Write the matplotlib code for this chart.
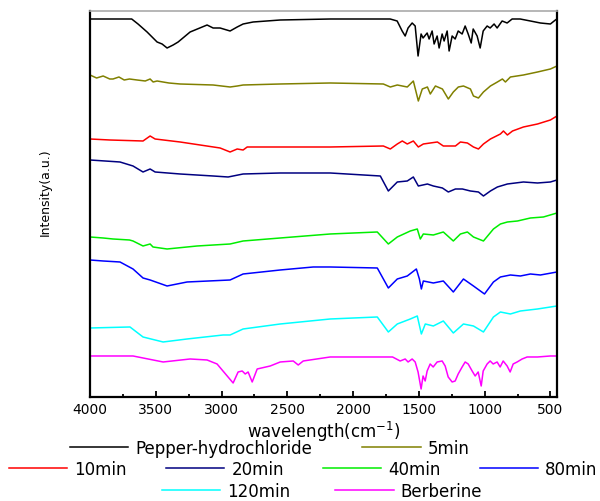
import numpy as np
import matplotlib
matplotlib.use("Agg")
import matplotlib.pyplot as plt
from matplotlib.ticker import MultipleLocator, NullLocator

# FTIR traces: (wavenumber, intensity a.u.)
pepper_w = [4000, 3683, 3635, 3566, 3490, 3452, 3414, 3368, 3330, 3239, 3110, 3064, 3011, 2935,
            2881, 2836, 2760, 2554, 2174, 1718, 1665, 1627, 1604, 1582, 1551, 1528, 1506, 1483,
            1468, 1437, 1422, 1399, 1384, 1361, 1346, 1323, 1308, 1285, 1270, 1247, 1224, 1201,
            1171, 1148, 1125, 1102, 1087, 1057, 1034, 1011, 981, 958, 928, 905, 867, 829, 791,
            730, 652, 576, 500, 462, 450]
pepper_i = [380, 380, 375, 367, 357, 355, 351, 354, 357, 367, 374, 371, 371, 368,
            372, 375, 377, 379, 380, 380, 378, 368, 363, 371, 376, 373, 343, 365,
            361, 366, 360, 368, 355, 363, 351, 365, 358, 368, 348, 363, 360, 368,
            365, 373, 365, 356, 370, 363, 351, 368, 373, 371, 375, 371, 378, 376, 380,
            380, 378, 376, 375, 379, 380]

min5_w = [4000, 3950, 3900, 3850, 3825, 3780, 3740, 3700, 3642, 3580, 3543, 3520, 3490, 3400,
          3315, 3064, 2935, 2880, 2836, 2554, 2174, 1770, 1717, 1664, 1588, 1542, 1504, 1474,
          1435, 1413, 1374, 1321, 1276, 1238, 1200, 1161, 1108, 1085, 1047, 1009, 956, 903,
          865, 842, 804, 705, 598, 500, 450]
min5_i = [324, 321, 323, 320, 320, 322, 319, 320, 319, 318, 320, 317, 318, 316,
          315, 314, 312, 313, 314, 315, 316, 315, 312, 314, 312, 318, 298, 310,
          312, 305, 313, 310, 300, 307, 312, 313, 310, 303, 301, 307, 313, 317,
          320, 317, 322, 324, 327, 330, 333]

min10_w = [4000, 3850, 3597, 3543, 3505, 3315, 3011, 2935, 2881, 2836, 2805, 2174, 1770, 1717,
           1664, 1626, 1588, 1542, 1504, 1466, 1413, 1359, 1314, 1276, 1222, 1184, 1131, 1085,
           1047, 1009, 956, 880, 857, 827, 788, 705, 598, 500, 450]
min10_i = [260, 259, 258, 263, 260, 257, 251, 247, 250, 249, 252, 252, 253, 250,
           255, 258, 255, 258, 252, 255, 256, 257, 253, 253, 253, 257, 256, 252,
           250, 255, 260, 265, 268, 264, 268, 272, 275, 279, 283]

min20_w = [4000, 3772, 3673, 3597, 3543, 3505, 3315, 3064, 2950, 2836, 2554, 2174, 1793, 1732,
           1664, 1588, 1542, 1504, 1435, 1390, 1321, 1276, 1222, 1169, 1108, 1047, 1009, 956,
           903, 827, 705, 598, 500, 450]
min20_i = [239, 237, 233, 227, 230, 227, 225, 223, 222, 225, 226, 226, 223, 208,
           217, 218, 222, 213, 215, 213, 211, 207, 210, 210, 208, 207, 203, 208,
           212, 215, 217, 216, 217, 219]

min40_w = [4000, 3900, 3825, 3700, 3673, 3597, 3543, 3521, 3414, 3186, 2935, 2836, 2554, 2174,
           1816, 1732, 1664, 1565, 1512, 1489, 1466, 1390, 1314, 1238, 1184, 1131, 1085, 1009,
           933, 880, 827, 750, 652, 553, 450]
min40_i = [162, 161, 160, 159, 158, 153, 155, 152, 150, 153, 155, 158, 161, 165,
           167, 155, 162, 168, 170, 160, 165, 164, 167, 158, 165, 167, 162, 158,
           170, 175, 177, 178, 181, 182, 186]

min80_w = [4000, 3900, 3772, 3673, 3597, 3543, 3414, 3262, 2935, 2836, 2554, 2303, 2174, 1816,
           1732, 1664, 1588, 1519, 1496, 1481, 1466, 1390, 1314, 1238, 1161, 1085, 1001, 933,
           880, 804, 728, 652, 576, 450]
min80_i = [139, 138, 137, 130, 121, 119, 113, 117, 119, 125, 129, 132, 132, 131,
           111, 120, 123, 130, 120, 110, 118, 116, 118, 107, 120, 113, 105, 117,
           122, 124, 123, 125, 124, 127]

min120_w = [4000, 3696, 3597, 3444, 3262, 2988, 2935, 2836, 2554, 2174, 1816, 1732, 1664, 1565,
            1512, 1481, 1451, 1390, 1314, 1238, 1161, 1085, 1009, 933, 880, 804, 728, 598, 450]
min120_i = [71, 72, 62, 57, 60, 64, 64, 70, 75, 80, 82, 67, 75, 80,
            83, 65, 75, 73, 78, 66, 75, 73, 67, 82, 87, 85, 88, 90, 93]

berb_w = [4000, 3673, 3444, 3239, 3110, 3034, 2957, 2912, 2874, 2843, 2820, 2798, 2767, 2729,
          2630, 2554, 2455, 2417, 2379, 2174, 1700, 1642, 1604, 1582, 1551, 1528, 1506, 1483,
          1468, 1452, 1437, 1414, 1391, 1361, 1323, 1300, 1277, 1247, 1224, 1201, 1171, 1148,
          1125, 1095, 1072, 1049, 1026, 1011, 981, 958, 935, 905, 882, 859, 829, 806, 783,
          753, 715, 677, 598, 500, 450]
berb_i = [43, 43, 37, 40, 39, 35, 23, 16, 27, 28, 25, 27, 17, 30,
          33, 37, 38, 34, 38, 42, 42, 38, 40, 37, 40, 37, 27, 10,
          23, 18, 28, 35, 32, 37, 38, 33, 22, 17, 18, 25, 32, 37,
          35, 28, 23, 27, 13, 28, 35, 38, 35, 37, 32, 38, 33, 27, 35,
          37, 40, 42, 42, 43, 43]

labels = ["Pepper-hydrochloride", "5min", "10min", "20min", "40min", "80min", "120min", "Berberine"]
colors = ["black", "#808000", "#ff0000", "#000080", "#00ee00", "#0000ff", "#00ffff", "#ff00ff"]
traces = [(pepper_w, pepper_i), (min5_w, min5_i), (min10_w, min10_i), (min20_w, min20_i),
          (min40_w, min40_i), (min80_w, min80_i), (min120_w, min120_i), (berb_w, berb_i)]

plt.rcParams['font.family'] = ['DejaVu Sans']

fig = plt.figure(figsize=(6, 5.02), dpi=100)
ax = fig.add_axes([0.15, 0.2072, 0.7783, 0.7689])

lines = []
for (w, inten), c, lab in zip(traces, colors, labels):
    ln, = ax.plot(w, inten, color=c, lw=1.1, label=lab)
    lines.append(ln)

ax.set_xlim(4000, 450)
ax.set_ylim(2, 388)
ax.xaxis.set_major_locator(MultipleLocator(500))
ax.xaxis.set_minor_locator(MultipleLocator(250))
ax.yaxis.set_major_locator(NullLocator())
ax.tick_params(axis='x', which='major', direction='in', length=4, width=1.3, labelsize=10, pad=3.5)
ax.tick_params(axis='x', which='minor', direction='in', length=2.5, width=1.3)

for s in ['left', 'right', 'bottom']:
    ax.spines[s].set_linewidth(1.6)
ax.spines['top'].set_color('#aaaaaa')
ax.spines['top'].set_linewidth(1.2)

ax.set_xlabel("wavelength(cm$^{-1}$)", fontsize=12)
ax.xaxis.label.set_va('center')
ax.xaxis.set_label_coords(0.5, -0.088)
ax.set_ylabel("Intensity(a.u.)", fontsize=9)
ax.yaxis.set_label_coords(-0.081, 0.534)

# legend split into three rows like the original: (items, left x px, centre y px, spacing)
rows = [([0, 1], 70, 449, 3.0), ([2, 3, 4, 5], 9, 470, 2.35), ([6, 7], 162, 492, 2.7)]
for idx, x0, yc, gap in rows:
    fig.legend([lines[i] for i in idx], [labels[i] for i in idx], loc='center left',
               bbox_to_anchor=(x0 / 600, 1 - yc / 502), ncol=len(idx), frameon=False, fontsize=12,
               handlelength=3.5, handletextpad=0.42, columnspacing=gap,
               borderpad=0, borderaxespad=0)

fig.savefig("out.png", dpi=100)
